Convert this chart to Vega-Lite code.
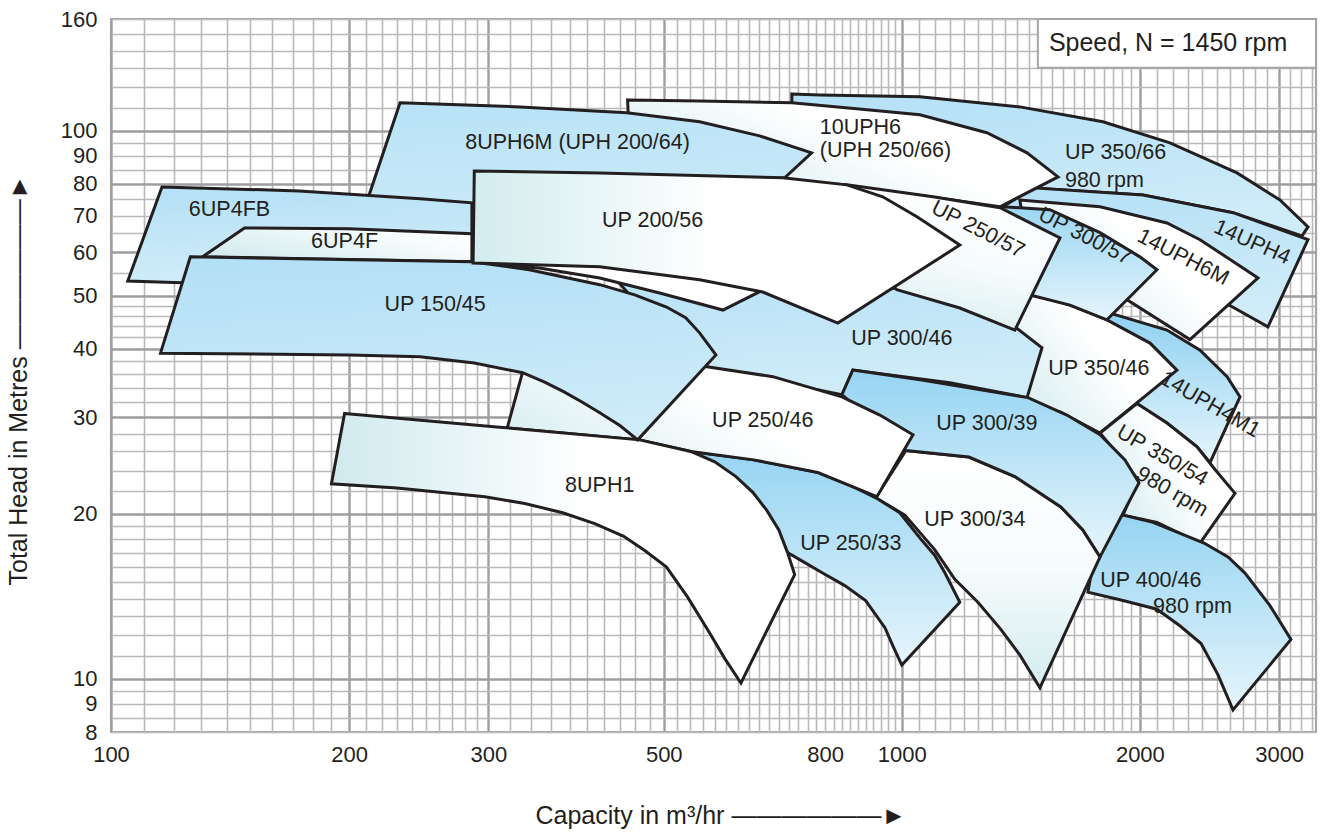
{
"$schema":"https://vega.github.io/schema/vega-lite/v6.json",
"width":1205,"height":713,
"autosize":{"type":"none"},
"padding":{"left":111,"top":19,"right":6,"bottom":100},
"background":"#ffffff",
"config":{"view":{"stroke":"#a6a6a8","strokeWidth":2.2},"font":"Liberation Sans","axis":{"labelFont":"Liberation Sans","titleFont":"Liberation Sans"}},
"datasets":{
"poly":[
{"n":"UP 350/66","i":0,"q":726,"h":116.8},{"n":"UP 350/66","i":1,"q":788,"h":116.3},{"n":"UP 350/66","i":2,"q":1054,"h":115.4},{"n":"UP 350/66","i":3,"q":1410,"h":110.6},{"n":"UP 350/66","i":4,"q":1796,"h":103.9},{"n":"UP 350/66","i":5,"q":2183,"h":95.1},{"n":"UP 350/66","i":6,"q":2654,"h":83.8},{"n":"UP 350/66","i":7,"q":3007,"h":74.8},{"n":"UP 350/66","i":8,"q":3263,"h":66.8},{"n":"UP 350/66","i":9,"q":3206,"h":64.3},{"n":"UP 350/66","i":10,"q":2623,"h":70.9},{"n":"UP 350/66","i":11,"q":2018,"h":76.4},{"n":"UP 350/66","i":12,"q":1465,"h":78.7},{"n":"UP 350/66","i":13,"q":1150,"h":83.1},{"n":"UP 350/66","i":14,"q":860,"h":92.3},{"n":"UP 350/66","i":15,"q":726,"h":104.7},
{"n":"14UPH4","i":0,"q":1465,"h":78.7},{"n":"14UPH4","i":1,"q":2018,"h":76.4},{"n":"14UPH4","i":2,"q":2623,"h":70.9},{"n":"14UPH4","i":3,"q":3263,"h":63.3},{"n":"14UPH4","i":4,"q":2904,"h":43.9},{"n":"14UPH4","i":5,"q":2593,"h":48.1},{"n":"14UPH4","i":6,"q":2060,"h":59.4},{"n":"14UPH4","i":7,"q":1539,"h":70.3},{"n":"14UPH4","i":8,"q":1342,"h":72.7},
{"n":"14UPH4M1","i":0,"q":1781,"h":45.2},{"n":"14UPH4M1","i":1,"q":1833,"h":46.5},{"n":"14UPH4M1","i":2,"q":2164,"h":43.3},{"n":"14UPH4M1","i":3,"q":2383,"h":39.8},{"n":"14UPH4M1","i":4,"q":2578,"h":35.6},{"n":"14UPH4M1","i":5,"q":2677,"h":32.7},{"n":"14UPH4M1","i":6,"q":2453,"h":24.8},{"n":"14UPH4M1","i":7,"q":2362,"h":26.5},{"n":"14UPH4M1","i":8,"q":2164,"h":29.3},{"n":"14UPH4M1","i":9,"q":1983,"h":31.8},{"n":"14UPH4M1","i":10,"q":1887,"h":36.6},
{"n":"10UPH6","i":0,"q":450,"h":113.9},{"n":"10UPH6","i":1,"q":555,"h":113.4},{"n":"10UPH6","i":2,"q":726,"h":112.5},{"n":"10UPH6","i":3,"q":911,"h":109.2},{"n":"10UPH6","i":4,"q":1054,"h":107.0},{"n":"10UPH6","i":5,"q":1281,"h":99.2},{"n":"10UPH6","i":6,"q":1440,"h":91.2},{"n":"10UPH6","i":7,"q":1576,"h":82.4},{"n":"10UPH6","i":8,"q":1331,"h":72.7},{"n":"10UPH6","i":9,"q":1085,"h":75.8},{"n":"10UPH6","i":10,"q":852,"h":79.4},{"n":"10UPH6","i":11,"q":711,"h":80.7},{"n":"10UPH6","i":12,"q":555,"h":84.9},{"n":"10UPH6","i":13,"q":453,"h":92.3},
{"n":"14UPH6M","i":0,"q":1410,"h":74.8},{"n":"14UPH6M","i":1,"q":1781,"h":72.7},{"n":"14UPH6M","i":2,"q":2164,"h":67.9},{"n":"14UPH6M","i":3,"q":2383,"h":63.3},{"n":"14UPH6M","i":4,"q":2821,"h":53.9},{"n":"14UPH6M","i":5,"q":2314,"h":41.6},{"n":"14UPH6M","i":6,"q":1926,"h":49.2},{"n":"14UPH6M","i":7,"q":1680,"h":52.4},{"n":"14UPH6M","i":8,"q":1452,"h":58.2},
{"n":"UP 350/46","i":0,"q":1331,"h":49.2},{"n":"UP 350/46","i":1,"q":1465,"h":50.2},{"n":"UP 350/46","i":2,"q":1632,"h":48.1},{"n":"UP 350/46","i":3,"q":1817,"h":45.2},{"n":"UP 350/46","i":4,"q":2060,"h":41.0},{"n":"UP 350/46","i":5,"q":2228,"h":36.6},{"n":"UP 350/46","i":6,"q":1781,"h":28.1},{"n":"UP 350/46","i":7,"q":1585,"h":30.7},{"n":"UP 350/46","i":8,"q":1331,"h":32.3},
{"n":"UP 350/54","i":0,"q":1781,"h":28.1},{"n":"UP 350/54","i":1,"q":1983,"h":31.8},{"n":"UP 350/54","i":2,"q":2164,"h":29.3},{"n":"UP 350/54","i":3,"q":2362,"h":26.5},{"n":"UP 350/54","i":4,"q":2489,"h":24.1},{"n":"UP 350/54","i":5,"q":2638,"h":21.8},{"n":"UP 350/54","i":6,"q":2383,"h":17.7},{"n":"UP 350/54","i":7,"q":2102,"h":19.3},{"n":"UP 350/54","i":8,"q":1904,"h":19.9},{"n":"UP 350/54","i":9,"q":1989,"h":23.1},
{"n":"8UPH6M","i":0,"q":232,"h":112.5},{"n":"8UPH6M","i":1,"q":329,"h":110.6},{"n":"8UPH6M","i":2,"q":449,"h":107.9},{"n":"8UPH6M","i":3,"q":555,"h":103.9},{"n":"8UPH6M","i":4,"q":661,"h":97.9},{"n":"8UPH6M","i":5,"q":769,"h":91.2},{"n":"8UPH6M","i":6,"q":711,"h":82.1},{"n":"8UPH6M","i":7,"q":415,"h":79.7},{"n":"8UPH6M","i":8,"q":289,"h":71.8},{"n":"8UPH6M","i":9,"q":211,"h":74.8},
{"n":"6UP4FB","i":0,"q":116,"h":79.0},{"n":"6UP4FB","i":1,"q":173,"h":77.7},{"n":"6UP4FB","i":2,"q":246,"h":75.2},{"n":"6UP4FB","i":3,"q":286,"h":73.9},{"n":"6UP4FB","i":4,"q":286,"h":57.7},{"n":"6UP4FB","i":5,"q":123,"h":52.8},{"n":"6UP4FB","i":6,"q":105,"h":53.2},
{"n":"UP 300/57","i":0,"q":1342,"h":72.7},{"n":"UP 300/57","i":1,"q":1539,"h":71.8},{"n":"UP 300/57","i":2,"q":1781,"h":65.2},{"n":"UP 300/57","i":3,"q":2000,"h":58.9},{"n":"UP 300/57","i":4,"q":2102,"h":55.8},{"n":"UP 300/57","i":5,"q":1817,"h":45.2},{"n":"UP 300/57","i":6,"q":1632,"h":48.1},{"n":"UP 300/57","i":7,"q":1465,"h":50.0},{"n":"UP 300/57","i":8,"q":1331,"h":50.8},
{"n":"UP 300/46","i":0,"q":415,"h":57.7},{"n":"UP 300/46","i":1,"q":555,"h":53.9},{"n":"UP 300/46","i":2,"q":667,"h":51.3},{"n":"UP 300/46","i":3,"q":835,"h":49.6},{"n":"UP 300/46","i":4,"q":985,"h":51.7},{"n":"UP 300/46","i":5,"q":1184,"h":48.1},{"n":"UP 300/46","i":6,"q":1390,"h":43.9},{"n":"UP 300/46","i":7,"q":1504,"h":40.2},{"n":"UP 300/46","i":8,"q":1440,"h":32.6},{"n":"UP 300/46","i":9,"q":1150,"h":34.7},{"n":"UP 300/46","i":10,"q":867,"h":36.6},{"n":"UP 300/46","i":11,"q":840,"h":33.0},{"n":"UP 300/46","i":12,"q":661,"h":35.4},{"n":"UP 300/46","i":13,"q":567,"h":37.1},{"n":"UP 300/46","i":14,"q":524,"h":39.8},
{"n":"UP 400/46","i":0,"q":1781,"h":19.1},{"n":"UP 400/46","i":1,"q":1904,"h":19.9},{"n":"UP 400/46","i":2,"q":2078,"h":19.3},{"n":"UP 400/46","i":3,"q":2411,"h":17.7},{"n":"UP 400/46","i":4,"q":2585,"h":16.7},{"n":"UP 400/46","i":5,"q":2716,"h":15.6},{"n":"UP 400/46","i":6,"q":2921,"h":13.6},{"n":"UP 400/46","i":7,"q":3105,"h":11.8},{"n":"UP 400/46","i":8,"q":2623,"h":8.78},{"n":"UP 400/46","i":9,"q":2511,"h":10.17},{"n":"UP 400/46","i":10,"q":2390,"h":11.6},{"n":"UP 400/46","i":11,"q":2247,"h":12.5},{"n":"UP 400/46","i":12,"q":2102,"h":13.4},{"n":"UP 400/46","i":13,"q":1904,"h":13.9},{"n":"UP 400/46","i":14,"q":1719,"h":14.4},
{"n":"6UP4F","i":0,"q":147.5,"h":66.5},{"n":"6UP4F","i":1,"q":200,"h":66.3},{"n":"6UP4F","i":2,"q":286,"h":64.9},{"n":"6UP4F","i":3,"q":286,"h":57.7},{"n":"6UP4F","i":4,"q":130.5,"h":58.9},
{"n":"UP 300/34","i":0,"q":1012,"h":26.1},{"n":"UP 300/34","i":1,"q":1216,"h":25.4},{"n":"UP 300/34","i":2,"q":1390,"h":23.4},{"n":"UP 300/34","i":3,"q":1589,"h":20.6},{"n":"UP 300/34","i":4,"q":1694,"h":18.7},{"n":"UP 300/34","i":5,"q":1781,"h":16.7},{"n":"UP 300/34","i":6,"q":1495,"h":9.63},{"n":"UP 300/34","i":7,"q":1410,"h":11.06},{"n":"UP 300/34","i":8,"q":1335,"h":12.3},{"n":"UP 300/34","i":9,"q":1248,"h":13.8},{"n":"UP 300/34","i":10,"q":1167,"h":15.2},{"n":"UP 300/34","i":11,"q":1101,"h":17.2},{"n":"UP 300/34","i":12,"q":1009,"h":19.9},{"n":"UP 300/34","i":13,"q":927,"h":21.4},
{"n":"sliver","i":0,"q":287,"h":58.7},{"n":"sliver","i":1,"q":415,"h":57.7},{"n":"sliver","i":2,"q":555,"h":53.9},{"n":"sliver","i":3,"q":665,"h":51.1},{"n":"sliver","i":4,"q":594,"h":47.1},{"n":"sliver","i":5,"q":494,"h":50.6},{"n":"sliver","i":6,"q":415,"h":53.9},{"n":"sliver","i":7,"q":348,"h":56.2},{"n":"sliver","i":8,"q":287,"h":57.4},
{"n":"UP 300/39","i":0,"q":867,"h":36.6},{"n":"UP 300/39","i":1,"q":1060,"h":35.1},{"n":"UP 300/39","i":2,"q":1444,"h":32.6},{"n":"UP 300/39","i":3,"q":1617,"h":30.3},{"n":"UP 300/39","i":4,"q":1781,"h":27.9},{"n":"UP 300/39","i":5,"q":1915,"h":25.1},{"n":"UP 300/39","i":6,"q":1995,"h":22.8},{"n":"UP 300/39","i":7,"q":1781,"h":16.7},{"n":"UP 300/39","i":8,"q":1694,"h":18.7},{"n":"UP 300/39","i":9,"q":1589,"h":20.6},{"n":"UP 300/39","i":10,"q":1390,"h":23.4},{"n":"UP 300/39","i":11,"q":1216,"h":25.4},{"n":"UP 300/39","i":12,"q":1012,"h":26.1},{"n":"UP 300/39","i":13,"q":840,"h":33.0},
{"n":"UP 250/33","i":0,"q":541,"h":26.0},{"n":"UP 250/33","i":1,"q":650,"h":25.1},{"n":"UP 250/33","i":2,"q":785,"h":23.8},{"n":"UP 250/33","i":3,"q":859.5,"h":22.6},{"n":"UP 250/33","i":4,"q":927,"h":21.4},{"n":"UP 250/33","i":5,"q":994,"h":20.1},{"n":"UP 250/33","i":6,"q":1060,"h":17.9},{"n":"UP 250/33","i":7,"q":1101,"h":16.8},{"n":"UP 250/33","i":8,"q":1134,"h":15.6},{"n":"UP 250/33","i":9,"q":1184,"h":13.8},{"n":"UP 250/33","i":10,"q":1000,"h":10.6},{"n":"UP 250/33","i":11,"q":974,"h":11.5},{"n":"UP 250/33","i":12,"q":952,"h":12.4},{"n":"UP 250/33","i":13,"q":900,"h":13.9},{"n":"UP 250/33","i":14,"q":847,"h":14.8},{"n":"UP 250/33","i":15,"q":794,"h":15.6},{"n":"UP 250/33","i":16,"q":754,"h":16.3},{"n":"UP 250/33","i":17,"q":717,"h":17.0},
{"n":"UP 250/46","i":0,"q":331.5,"h":36.3},{"n":"UP 250/46","i":1,"q":415,"h":37.4},{"n":"UP 250/46","i":2,"q":524,"h":37.9},{"n":"UP 250/46","i":3,"q":567,"h":37.1},{"n":"UP 250/46","i":4,"q":687,"h":35.6},{"n":"UP 250/46","i":5,"q":840,"h":32.7},{"n":"UP 250/46","i":6,"q":938,"h":30.3},{"n":"UP 250/46","i":7,"q":1033,"h":27.9},{"n":"UP 250/46","i":8,"q":930,"h":21.5},{"n":"UP 250/46","i":9,"q":783,"h":23.8},{"n":"UP 250/46","i":10,"q":650,"h":25.1},{"n":"UP 250/46","i":11,"q":541,"h":26.0},{"n":"UP 250/46","i":12,"q":466,"h":27.3},{"n":"UP 250/46","i":13,"q":317,"h":28.7},
{"n":"8UPH1","i":0,"q":197.4,"h":30.5},{"n":"8UPH1","i":1,"q":310,"h":28.8},{"n":"8UPH1","i":2,"q":466,"h":27.3},{"n":"8UPH1","i":3,"q":541,"h":26.0},{"n":"8UPH1","i":4,"q":580,"h":24.9},{"n":"8UPH1","i":5,"q":617,"h":23.4},{"n":"8UPH1","i":6,"q":648,"h":21.9},{"n":"8UPH1","i":7,"q":675,"h":20.3},{"n":"8UPH1","i":8,"q":699,"h":18.7},{"n":"8UPH1","i":9,"q":717,"h":17.0},{"n":"8UPH1","i":10,"q":732,"h":15.5},{"n":"8UPH1","i":11,"q":626,"h":9.83},{"n":"8UPH1","i":12,"q":597,"h":10.9},{"n":"8UPH1","i":13,"q":572,"h":12.1},{"n":"8UPH1","i":14,"q":536,"h":14.1},{"n":"8UPH1","i":15,"q":504,"h":16.0},{"n":"8UPH1","i":16,"q":474.5,"h":17.1},{"n":"8UPH1","i":17,"q":445,"h":18.2},{"n":"8UPH1","i":18,"q":409,"h":19.2},{"n":"8UPH1","i":19,"q":372.5,"h":20.1},{"n":"8UPH1","i":20,"q":333.5,"h":20.9},{"n":"8UPH1","i":21,"q":297,"h":21.5},{"n":"8UPH1","i":22,"q":260.4,"h":21.9},{"n":"8UPH1","i":23,"q":230,"h":22.3},{"n":"8UPH1","i":24,"q":190,"h":22.7},
{"n":"UP 250/57","i":0,"q":711,"h":80.7},{"n":"UP 250/57","i":1,"q":852,"h":79.7},{"n":"UP 250/57","i":2,"q":1095,"h":75.8},{"n":"UP 250/57","i":3,"q":1331,"h":72.4},{"n":"UP 250/57","i":4,"q":1585,"h":63.8},{"n":"UP 250/57","i":5,"q":1390,"h":43.3},{"n":"UP 250/57","i":6,"q":1184,"h":47.5},{"n":"UP 250/57","i":7,"q":985.5,"h":51.3},{"n":"UP 250/57","i":8,"q":860,"h":60.7},{"n":"UP 250/57","i":9,"q":743,"h":74.8},
{"n":"UP 150/45","i":0,"q":126,"h":58.9},{"n":"UP 150/45","i":1,"q":286,"h":57.7},{"n":"UP 150/45","i":2,"q":338,"h":55.8},{"n":"UP 150/45","i":3,"q":415,"h":52.4},{"n":"UP 150/45","i":4,"q":459.5,"h":50.2},{"n":"UP 150/45","i":5,"q":504,"h":47.7},{"n":"UP 150/45","i":6,"q":533,"h":45.6},{"n":"UP 150/45","i":7,"q":555,"h":42.8},{"n":"UP 150/45","i":8,"q":582,"h":39.0},{"n":"UP 150/45","i":9,"q":463.5,"h":27.3},{"n":"UP 150/45","i":10,"q":440,"h":29.0},{"n":"UP 150/45","i":11,"q":415,"h":30.6},{"n":"UP 150/45","i":12,"q":394,"h":32.0},{"n":"UP 150/45","i":13,"q":374,"h":33.4},{"n":"UP 150/45","i":14,"q":353.5,"h":34.8},{"n":"UP 150/45","i":15,"q":331.5,"h":36.2},{"n":"UP 150/45","i":16,"q":288,"h":37.7},{"n":"UP 150/45","i":17,"q":246,"h":38.7},{"n":"UP 150/45","i":18,"q":200,"h":39.0},{"n":"UP 150/45","i":19,"q":115.5,"h":39.3},
{"n":"UP 200/56","i":0,"q":288,"h":84.5},{"n":"UP 200/56","i":1,"q":415,"h":83.8},{"n":"UP 200/56","i":2,"q":707,"h":82.1},{"n":"UP 200/56","i":3,"q":852,"h":79.7},{"n":"UP 200/56","i":4,"q":946,"h":75.8},{"n":"UP 200/56","i":5,"q":1045,"h":69.7},{"n":"UP 200/56","i":6,"q":1184,"h":61.9},{"n":"UP 200/56","i":7,"q":830,"h":44.6},{"n":"UP 200/56","i":8,"q":667,"h":50.8},{"n":"UP 200/56","i":9,"q":555,"h":53.5},{"n":"UP 200/56","i":10,"q":415,"h":56.5},{"n":"UP 200/56","i":11,"q":287,"h":57.4}
],
"lab_c":[
{"t":"6UP4FB","q":141.2,"h":71.8},{"t":"6UP4F","q":197.4,"h":62.7},{"t":"8UPH6M (UPH 200/64)","q":389,"h":95.1},{"t":"UP 200/56","q":484,"h":68.5},{"t":"UP 150/45","q":257,"h":48.1},{"t":"UP 300/46","q":1000,"h":41.7},{"t":"UP 350/46","q":1775,"h":36.8},{"t":"UP 250/46","q":667,"h":29.6},{"t":"UP 300/39","q":1281,"h":29.2},{"t":"8UPH1","q":415,"h":22.5},{"t":"UP 300/34","q":1237,"h":19.5},{"t":"UP 250/33","q":862,"h":17.6},{"t":"UP 400/46","q":2065,"h":15.1},{"t":"980 rpm","q":2331,"h":13.5}
],
"lab_l":[
{"t":"10UPH6","q":787.5,"h":101.3},{"t":"(UPH 250/66)","q":787.5,"h":91.9},{"t":"UP 350/66","q":1608,"h":91.2},{"t":"980 rpm","q":1608,"h":81.1}
],
"lab_r27":[
{"t":"UP 250/57","q":1248,"h":66.0},{"t":"UP 300/57","q":1704,"h":64.1},{"t":"14UPH6M","q":2267,"h":58.7}
],
"lab_r24":[{"t":"14UPH4","q":2772,"h":62.5}],
"lab_r30":[
{"t":"14UPH4M1","q":2453,"h":31.6},{"t":"UP 350/54","q":2133,"h":25.5},{"t":"980 rpm","q":2196,"h":21.9}
],
"box":[{"t":"Speed, N = 1450 rpm","q":1486,"q2":3340,"h":130.3,"h2":160,"qc":2171,"hc":144.8}]
},
"data":{"name":"poly"},
"encoding":{
"x":{"field":"q","type":"quantitative","scale":{"type":"log","domain":[100,3340],"nice":false},
"axis":{"values":[100,110,120,130,140,150,160,170,180,190,200,210,220,230,240,250,260,270,280,290,300,320,340,360,380,400,420,440,460,480,500,520,540,560,580,600,620,640,660,680,700,720,740,760,780,800,820,840,860,880,900,920,940,960,980,1000,1050,1100,1150,1200,1250,1300,1350,1400,1450,1500,1550,1600,1650,1700,1750,1800,1850,1900,1950,2000,2100,2200,2300,2400,2500,2600,2700,2800,2900,3000,3100,3200,3300],
"labelExpr":"indexof([100,200,300,500,800,1000,2000,3000], datum.value) >= 0 ? format(datum.value, 'd') : ''",
"labelOverlap":false,"labelFlush":false,"ticks":false,"tickSize":0,"domain":false,
"labelFontSize":22,"labelColor":"#231f20","labelPadding":12,
"gridColor":{"condition":{"test":"indexof([100,200,300,500,1000,2000,3000], datum.value) >= 0","value":"#9e9ea0"},"value":"#b9b9bb"},
"gridWidth":{"condition":{"test":"indexof([100,200,300,500,1000,2000,3000], datum.value) >= 0","value":2.4},"value":1.6},
"title":"Capacity in m³/hr  ——————►","titleFontSize":25,"titleFontWeight":"normal","titleColor":"#231f20","titleAlign":"left","titleBaseline":"middle","titleX":424,"titleY":83}},
"y":{"field":"h","type":"quantitative","scale":{"type":"log","domain":[8,160],"nice":false},
"axis":{"values":[8,8.5,9,9.5,10,11,12,13,14,15,16,17,18,19,20,22,24,26,28,30,32,34,36,38,40,42,44,46,48,50,55,60,65,70,75,80,85,90,95,100,110,120,130,140,150,160],
"labelExpr":"indexof([8,9,10,20,30,40,50,60,70,80,90,100,160], datum.value) >= 0 ? format(datum.value, 'd') : ''",
"labelOverlap":false,"labelFlush":false,"ticks":false,"tickSize":0,"domain":false,
"labelFontSize":22,"labelColor":"#231f20","labelPadding":14,
"gridColor":{"condition":{"test":"indexof([10,20,30,40,50,60,80,100], datum.value) >= 0","value":"#9e9ea0"},"value":"#b9b9bb"},
"gridWidth":{"condition":{"test":"indexof([10,20,30,40,50,60,80,100], datum.value) >= 0","value":2.4},"value":1.6},
"title":"Total Head in Metres  ——————►","titleFontSize":25,"titleFontWeight":"normal","titleColor":"#231f20","titleAngle":270,"titleAlign":"left","titleBaseline":"middle","titleX":-93,"titleY":566}}
},
"layer":[
{"transform":[{"filter":"datum.n==='UP 350/66'"}],"mark":{"type":"line","interpolate":"linear-closed","stroke":"#231f20","strokeWidth":3,"strokeJoin":"miter","fill":{"gradient":"linear","x1":0,"y1":0,"x2":0.2,"y2":1,"stops":[{"offset":0,"color":"#b4e0f6"},{"offset":1,"color":"#d0ecf9"}]}},"encoding":{"order":{"field":"i","type":"quantitative"}}},
{"transform":[{"filter":"datum.n==='14UPH4'"}],"mark":{"type":"line","interpolate":"linear-closed","stroke":"#231f20","strokeWidth":3,"strokeJoin":"miter","fill":{"gradient":"linear","x1":0,"y1":0,"x2":0.2,"y2":1,"stops":[{"offset":0,"color":"#b4e0f6"},{"offset":1,"color":"#d0ecf9"}]}},"encoding":{"order":{"field":"i","type":"quantitative"}}},
{"transform":[{"filter":"datum.n==='14UPH4M1'"}],"mark":{"type":"line","interpolate":"linear-closed","stroke":"#231f20","strokeWidth":3,"strokeJoin":"miter","fill":{"gradient":"linear","x1":0,"y1":0,"x2":0,"y2":1,"stops":[{"offset":0,"color":"#8fd1f1"},{"offset":1,"color":"#e6f5fc"}]}},"encoding":{"order":{"field":"i","type":"quantitative"}}},
{"transform":[{"filter":"datum.n==='10UPH6'"}],"mark":{"type":"line","interpolate":"linear-closed","stroke":"#231f20","strokeWidth":3,"strokeJoin":"miter","fill":{"gradient":"linear","x1":0,"y1":0.8,"x2":1,"y2":0.2,"stops":[{"offset":0,"color":"#d0eaed"},{"offset":0.6,"color":"#ffffff"},{"offset":1,"color":"#ffffff"}]}},"encoding":{"order":{"field":"i","type":"quantitative"}}},
{"transform":[{"filter":"datum.n==='14UPH6M'"}],"mark":{"type":"line","interpolate":"linear-closed","stroke":"#231f20","strokeWidth":3,"strokeJoin":"miter","fill":{"gradient":"linear","x1":0,"y1":0.8,"x2":1,"y2":0.2,"stops":[{"offset":0,"color":"#d0eaed"},{"offset":0.6,"color":"#ffffff"},{"offset":1,"color":"#ffffff"}]}},"encoding":{"order":{"field":"i","type":"quantitative"}}},
{"transform":[{"filter":"datum.n==='UP 350/46'"}],"mark":{"type":"line","interpolate":"linear-closed","stroke":"#231f20","strokeWidth":3,"strokeJoin":"miter","fill":{"gradient":"linear","x1":0,"y1":0.8,"x2":1,"y2":0.2,"stops":[{"offset":0,"color":"#d0eaed"},{"offset":0.6,"color":"#ffffff"},{"offset":1,"color":"#ffffff"}]}},"encoding":{"order":{"field":"i","type":"quantitative"}}},
{"transform":[{"filter":"datum.n==='UP 350/54'"}],"mark":{"type":"line","interpolate":"linear-closed","stroke":"#231f20","strokeWidth":3,"strokeJoin":"miter","fill":{"gradient":"linear","x1":0,"y1":0.8,"x2":1,"y2":0.2,"stops":[{"offset":0,"color":"#d0eaed"},{"offset":0.6,"color":"#ffffff"},{"offset":1,"color":"#ffffff"}]}},"encoding":{"order":{"field":"i","type":"quantitative"}}},
{"transform":[{"filter":"datum.n==='8UPH6M'"}],"mark":{"type":"line","interpolate":"linear-closed","stroke":"#231f20","strokeWidth":3,"strokeJoin":"miter","fill":{"gradient":"linear","x1":0,"y1":0,"x2":0.2,"y2":1,"stops":[{"offset":0,"color":"#b8e2f7"},{"offset":1,"color":"#c8e9f8"}]}},"encoding":{"order":{"field":"i","type":"quantitative"}}},
{"transform":[{"filter":"datum.n==='6UP4FB'"}],"mark":{"type":"line","interpolate":"linear-closed","stroke":"#231f20","strokeWidth":3,"strokeJoin":"miter","fill":{"gradient":"linear","x1":0,"y1":0,"x2":0.2,"y2":1,"stops":[{"offset":0,"color":"#b4e0f6"},{"offset":1,"color":"#d0ecf9"}]}},"encoding":{"order":{"field":"i","type":"quantitative"}}},
{"transform":[{"filter":"datum.n==='UP 300/57'"}],"mark":{"type":"line","interpolate":"linear-closed","stroke":"#231f20","strokeWidth":3,"strokeJoin":"miter","fill":{"gradient":"linear","x1":0,"y1":0,"x2":0,"y2":1,"stops":[{"offset":0,"color":"#9ad6f2"},{"offset":1,"color":"#e6f5fc"}]}},"encoding":{"order":{"field":"i","type":"quantitative"}}},
{"transform":[{"filter":"datum.n==='UP 300/46'"}],"mark":{"type":"line","interpolate":"linear-closed","stroke":"#231f20","strokeWidth":3,"strokeJoin":"miter","fill":{"gradient":"linear","x1":0,"y1":0,"x2":0.2,"y2":1,"stops":[{"offset":0,"color":"#b4e0f6"},{"offset":1,"color":"#d0ecf9"}]}},"encoding":{"order":{"field":"i","type":"quantitative"}}},
{"transform":[{"filter":"datum.n==='UP 400/46'"}],"mark":{"type":"line","interpolate":"linear-closed","stroke":"#231f20","strokeWidth":3,"strokeJoin":"miter","fill":{"gradient":"linear","x1":0,"y1":0,"x2":0,"y2":1,"stops":[{"offset":0,"color":"#96d4f2"},{"offset":1,"color":"#e6f5fc"}]}},"encoding":{"order":{"field":"i","type":"quantitative"}}},
{"transform":[{"filter":"datum.n==='6UP4F'"}],"mark":{"type":"line","interpolate":"linear-closed","stroke":"#231f20","strokeWidth":3,"strokeJoin":"miter","fill":{"gradient":"linear","x1":0,"y1":0.8,"x2":1,"y2":0.2,"stops":[{"offset":0,"color":"#d0eaed"},{"offset":0.7,"color":"#f4fafb"},{"offset":1,"color":"#ffffff"}]}},"encoding":{"order":{"field":"i","type":"quantitative"}}},
{"transform":[{"filter":"datum.n==='UP 300/34'"}],"mark":{"type":"line","interpolate":"linear-closed","stroke":"#231f20","strokeWidth":3,"strokeJoin":"miter","fill":{"gradient":"linear","x1":0.5,"y1":0,"x2":0.5,"y2":1,"stops":[{"offset":0,"color":"#ffffff"},{"offset":0.5,"color":"#f6fbfc"},{"offset":1,"color":"#d3ecee"}]}},"encoding":{"order":{"field":"i","type":"quantitative"}}},
{"transform":[{"filter":"datum.n==='sliver'"}],"mark":{"type":"line","interpolate":"linear-closed","stroke":"#231f20","strokeWidth":3,"strokeJoin":"miter","fill":"#ffffff"},"encoding":{"order":{"field":"i","type":"quantitative"}}},
{"transform":[{"filter":"datum.n==='UP 300/39'"}],"mark":{"type":"line","interpolate":"linear-closed","stroke":"#231f20","strokeWidth":3,"strokeJoin":"miter","fill":{"gradient":"linear","x1":0,"y1":0,"x2":0,"y2":1,"stops":[{"offset":0,"color":"#96d4f2"},{"offset":1,"color":"#e6f5fc"}]}},"encoding":{"order":{"field":"i","type":"quantitative"}}},
{"transform":[{"filter":"datum.n==='UP 250/33'"}],"mark":{"type":"line","interpolate":"linear-closed","stroke":"#231f20","strokeWidth":3,"strokeJoin":"miter","fill":{"gradient":"linear","x1":0,"y1":0,"x2":0,"y2":1,"stops":[{"offset":0,"color":"#96d4f2"},{"offset":1,"color":"#e6f5fc"}]}},"encoding":{"order":{"field":"i","type":"quantitative"}}},
{"transform":[{"filter":"datum.n==='UP 250/46'"}],"mark":{"type":"line","interpolate":"linear-closed","stroke":"#231f20","strokeWidth":3,"strokeJoin":"miter","fill":{"gradient":"linear","x1":0,"y1":0.8,"x2":1,"y2":0.2,"stops":[{"offset":0,"color":"#d0eaed"},{"offset":0.6,"color":"#ffffff"},{"offset":1,"color":"#ffffff"}]}},"encoding":{"order":{"field":"i","type":"quantitative"}}},
{"transform":[{"filter":"datum.n==='8UPH1'"}],"mark":{"type":"line","interpolate":"linear-closed","stroke":"#231f20","strokeWidth":3,"strokeJoin":"miter","fill":{"gradient":"linear","x1":0,"y1":0.5,"x2":1,"y2":0.5,"stops":[{"offset":0,"color":"#d0eaed"},{"offset":0.55,"color":"#ffffff"},{"offset":1,"color":"#ffffff"}]}},"encoding":{"order":{"field":"i","type":"quantitative"}}},
{"transform":[{"filter":"datum.n==='UP 250/57'"}],"mark":{"type":"line","interpolate":"linear-closed","stroke":"#231f20","strokeWidth":3,"strokeJoin":"miter","fill":{"gradient":"linear","x1":0.7,"y1":0,"x2":0.3,"y2":1,"stops":[{"offset":0,"color":"#ffffff"},{"offset":0.5,"color":"#f6fbfc"},{"offset":1,"color":"#d3ecee"}]}},"encoding":{"order":{"field":"i","type":"quantitative"}}},
{"transform":[{"filter":"datum.n==='UP 150/45'"}],"mark":{"type":"line","interpolate":"linear-closed","stroke":"#231f20","strokeWidth":3,"strokeJoin":"miter","fill":{"gradient":"linear","x1":0,"y1":0,"x2":0.2,"y2":1,"stops":[{"offset":0,"color":"#b2dff6"},{"offset":1,"color":"#cdebf9"}]}},"encoding":{"order":{"field":"i","type":"quantitative"}}},
{"transform":[{"filter":"datum.n==='UP 200/56'"}],"mark":{"type":"line","interpolate":"linear-closed","stroke":"#231f20","strokeWidth":3,"strokeJoin":"miter","fill":{"gradient":"linear","x1":0,"y1":0.5,"x2":1,"y2":0.5,"stops":[{"offset":0,"color":"#d3ecee"},{"offset":0.5,"color":"#ffffff"},{"offset":1,"color":"#ffffff"}]}},"encoding":{"order":{"field":"i","type":"quantitative"}}},
{"data":{"name":"lab_c"},"mark":{"type":"text","fontSize":21.5,"font":"Liberation Sans","color":"#231f20","align":"center","baseline":"middle"},"encoding":{"text":{"field":"t"}}},
{"data":{"name":"lab_l"},"mark":{"type":"text","fontSize":21.5,"font":"Liberation Sans","color":"#231f20","align":"left","baseline":"middle"},"encoding":{"text":{"field":"t"}}},
{"data":{"name":"lab_r27"},"mark":{"type":"text","fontSize":21.5,"font":"Liberation Sans","color":"#231f20","align":"center","baseline":"middle","angle":27},"encoding":{"text":{"field":"t"}}},
{"data":{"name":"lab_r24"},"mark":{"type":"text","fontSize":21.5,"font":"Liberation Sans","color":"#231f20","align":"center","baseline":"middle","angle":24},"encoding":{"text":{"field":"t"}}},
{"data":{"name":"lab_r30"},"mark":{"type":"text","fontSize":21.5,"font":"Liberation Sans","color":"#231f20","align":"center","baseline":"middle","angle":30},"encoding":{"text":{"field":"t"}}},
{"data":{"name":"box"},"mark":{"type":"rect","fill":"#ffffff","stroke":"#a6a6a8","strokeWidth":2},"encoding":{"x2":{"field":"q2"},"y2":{"field":"h2"}}},
{"data":{"name":"box"},"mark":{"type":"text","fontSize":25,"font":"Liberation Sans","color":"#231f20","align":"center","baseline":"middle"},"encoding":{"x":{"field":"qc","type":"quantitative"},"y":{"field":"hc","type":"quantitative"},"text":{"field":"t"}}}
]
}
